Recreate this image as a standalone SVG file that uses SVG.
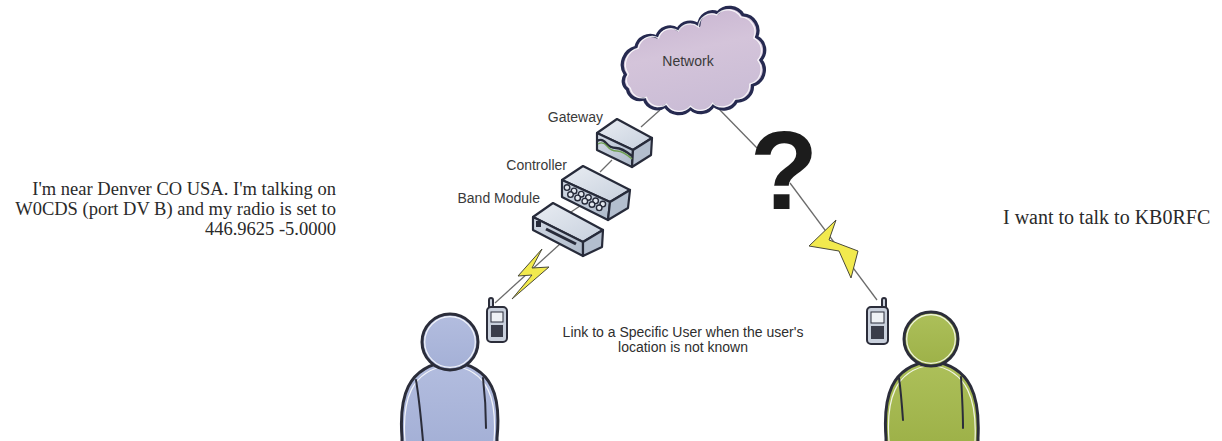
<svg xmlns="http://www.w3.org/2000/svg" width="1222" height="441" viewBox="0 0 1222 441">
  <defs>
    <linearGradient id="cloudFill" x1="0" y1="0" x2="0.3" y2="1">
      <stop offset="0" stop-color="#c6b2cf"/>
      <stop offset="0.5" stop-color="#d4c4da"/>
      <stop offset="1" stop-color="#cbbdd6"/>
    </linearGradient>
    <linearGradient id="topFace" x1="0" y1="0" x2="1" y2="1">
      <stop offset="0" stop-color="#e9edf3"/>
      <stop offset="1" stop-color="#c7d0dd"/>
    </linearGradient>
    <linearGradient id="frontFace" x1="0" y1="0" x2="1" y2="1">
      <stop offset="0" stop-color="#d3dae5"/>
      <stop offset="1" stop-color="#aebaca"/>
    </linearGradient>
    <linearGradient id="blueUser" x1="0" y1="0" x2="0" y2="1">
      <stop offset="0" stop-color="#b3bddf"/>
      <stop offset="1" stop-color="#a4b0d6"/>
    </linearGradient>
    <linearGradient id="greenUser" x1="0" y1="0" x2="0" y2="1">
      <stop offset="0" stop-color="#adc05a"/>
      <stop offset="1" stop-color="#9db148"/>
    </linearGradient>
    <path id="cloudShape" d="M632,74 A17 17 0 0 1 642,48 A14 14 0 0 1 662,38 A13 13 0 0 1 682,31 A13 13 0 0 1 702,27 A13 13 0 0 1 720,15 A15 15 0 0 1 744,17 A15 15 0 0 1 757,38 A14 14 0 0 1 761,60 A15 15 0 0 1 753,84 A14 14 0 0 1 738,99 A14 14 0 0 1 716,103 A14 14 0 0 1 694,106 A15 15 0 0 1 670,104 A13 13 0 0 1 650,97 A12 12 0 0 1 634,88 A10 10 0 0 1 632,74 Z"/>
    <style>
      .link { stroke: #6b6b6b; stroke-width: 1.3; fill: none; }
      .edge { stroke: #272b3a; stroke-width: 2.2; stroke-linejoin: round; }
      .top { fill: url(#topFace); }
      .front { fill: url(#frontFace); }
      .side { fill: #b3bece; }
      .label { font-family: "Liberation Sans", Arial, sans-serif; font-size: 14px; fill: #3a3a3a; }
      .note { font-family: "Liberation Sans", Arial, sans-serif; font-size: 14px; fill: #2e2e2e; }
      .speech { font-family: "Liberation Serif", "Times New Roman", serif; font-size: 18.5px; fill: #2a2a2a; }
      .speech.wide { font-size: 20px; }
      .bolt { fill: #f2ea4e; stroke: #4a4a3a; stroke-width: 1; stroke-linejoin: round; }
      .outline { stroke: #2b2d3a; stroke-width: 3; stroke-linejoin: round; }
      .halo { fill: none; stroke: #ffffff; stroke-width: 1.2; opacity: 0.85; }
      .arm { fill: none; stroke: #2b2d3a; stroke-width: 2; stroke-linecap: round; }
      .phone { fill: #c9d0dc; stroke: #2b2d3a; stroke-width: 2; }
    </style>
  </defs>

  <rect width="1222" height="441" fill="#ffffff"/>

  <!-- connectors -->
  <g id="connectors">
    <line class="link" x1="660" y1="110" x2="641" y2="127"/>
    <line class="link" x1="718" y1="108" x2="757" y2="148"/>
    <line class="link" x1="790" y1="183" x2="877" y2="300"/>
    <line class="link" x1="612" y1="160" x2="600" y2="172"/>
    <line class="link" x1="580" y1="206" x2="568" y2="214"/>
    <line class="link" x1="560" y1="244" x2="495" y2="303"/>
  </g>

  <!-- network cloud -->
  <g id="network">
    <g transform="translate(765 60) scale(1.05) translate(-765 -60)">
      <use href="#cloudShape" fill="url(#cloudFill)" stroke="#262a50" stroke-width="3.1" stroke-linejoin="round"/>
      <use href="#cloudShape" class="halo" transform="translate(696 62) scale(0.955) translate(-696 -62)"/>
    </g>
    <text class="label" x="688" y="66" text-anchor="middle">Network</text>
  </g>

  <!-- gateway -->
  <g id="gateway">
    <polygon class="top edge" points="597,133 617,119 652,138 633,150"/>
    <polygon class="front edge" points="597,133 633,150 632,167 597,150"/>
    <polygon class="side edge" points="633,150 652,138 651,155 632,167"/>
    <path d="M597,141 q5,-3 9,2 t10,5 t16,8" fill="none" stroke="#272b3a" stroke-width="2.4"/>
    <path d="M598,144 q5,-3 9,2 t10,5 t15,8" fill="none" stroke="#6fa052" stroke-width="1.4"/>
    <text class="label" x="603" y="122" text-anchor="end">Gateway</text>
  </g>

  <!-- controller -->
  <g id="controller">
    <polygon class="top edge" points="562,180 583,166 630,190 610,202"/>
    <polygon class="front edge" points="562,180 610,202 608,220 562,197"/>
    <polygon class="side edge" points="610,202 630,190 628,208 608,220"/>
    <g fill="#e3e8ef" stroke="#272b3a" stroke-width="1.4">
      <circle cx="567" cy="187.6" r="2.8"/><circle cx="574" cy="190.9" r="2.8"/><circle cx="581.2" cy="194.2" r="2.8"/>
      <circle cx="588.4" cy="197.5" r="2.8"/><circle cx="595.6" cy="200.8" r="2.8"/><circle cx="602.8" cy="204.1" r="2.8"/>
      <circle cx="570.5" cy="194.6" r="2.8"/><circle cx="577.6" cy="197.9" r="2.8"/><circle cx="584.8" cy="201.2" r="2.8"/>
      <circle cx="592" cy="204.5" r="2.8"/><circle cx="599.2" cy="207.8" r="2.8"/>
    </g>
    <text class="label" x="567" y="170" text-anchor="end">Controller</text>
  </g>

  <!-- band module -->
  <g id="band-module">
    <polygon class="top edge" points="533,217 553,203 603,230 583,242"/>
    <polygon class="front edge" points="533,217 583,242 583,256 533,230"/>
    <polygon class="side edge" points="583,242 603,230 602,247 583,256"/>
    <rect x="536" y="221" width="5" height="6" fill="#272b3a"/>
    <line x1="546" y1="229" x2="576" y2="244" stroke="#272b3a" stroke-width="3"/>
    <text class="label" x="540" y="203" text-anchor="end">Band Module</text>
  </g>

  <!-- lightning bolts on the radio paths -->
  <g id="bolt-left">
    <polygon class="bolt" points="542,249 518,276 532,275 512,299 549,267 532,268"/>
  </g>
  <g id="bolt-right">
    <polygon class="bolt" points="836,220 809,246 839,251 851,278 858,251 829,240"/>
  </g>

  <!-- unknown location marker -->
  <g id="question">
    <text x="784" y="209" text-anchor="middle" font-family="Liberation Sans, Arial, sans-serif" font-weight="bold" font-size="112" fill="#1c1c1c">?</text>
  </g>

  <!-- left radio -->
  <g id="phone-left">
    <rect x="489" y="298" width="4" height="11" rx="2" class="phone"/>
    <rect x="487" y="307" width="20" height="35" rx="4" class="phone"/>
    <rect x="491" y="312" width="12" height="10" fill="#eef1f5" stroke="#2b2d3a" stroke-width="1"/>
    <rect x="491" y="325" width="12" height="12" fill="#3a3d4a"/>
  </g>

  <!-- right radio -->
  <g id="phone-right">
    <rect x="882" y="298" width="4" height="11" rx="2" class="phone"/>
    <rect x="867" y="307" width="21" height="37" rx="4" class="phone"/>
    <rect x="871" y="312" width="13" height="11" fill="#eef1f5" stroke="#2b2d3a" stroke-width="1"/>
    <rect x="871" y="326" width="13" height="13" fill="#3a3d4a"/>
  </g>

  <!-- calling user -->
  <g id="user-left">
    <path class="outline" fill="url(#blueUser)" d="M402,445 L402,438 C399,398 406,366 450,361 C494,366 501,398 497,438 L497,445 Z"/>
    <path class="halo" d="M405,441 C402,401 410,370 450,365 C490,370 497,401 494,441"/>
    <path class="arm" d="M416,380 C419,398 421,418 423,441"/>
    <path class="arm" d="M483,378 C485,395 486,412 486,428"/>
    <circle class="outline" fill="url(#blueUser)" cx="450" cy="342" r="28"/>
    <circle class="halo" cx="450" cy="342" r="25.3"/>
  </g>

  <!-- called user -->
  <g id="user-right">
    <path class="outline" fill="url(#greenUser)" d="M886,445 L886,438 C883,398 890,366 931,361 C972,366 980,398 978,438 L978,445 Z"/>
    <path class="halo" d="M889,441 C886,401 894,370 931,365 C968,370 977,401 975,441"/>
    <path class="arm" d="M899,378 C901,392 902,406 903,420"/>
    <path class="arm" d="M961,377 C962,394 963,411 963,428"/>
    <circle class="outline" fill="url(#greenUser)" cx="931" cy="339" r="27"/>
    <circle class="halo" cx="931" cy="339" r="24.3"/>
  </g>

  <!-- captions -->
  <g id="caption-left">
    <text class="speech" x="336" y="195" text-anchor="end">I'm near Denver CO USA. I'm talking on</text>
    <text class="speech" x="336" y="215" text-anchor="end">W0CDS (port DV B) and my radio is set to</text>
    <text class="speech" x="336" y="235" text-anchor="end">446.9625 -5.0000</text>
  </g>
  <g id="caption-right">
    <text class="speech wide" x="1003" y="224">I want to talk to KB0RFC</text>
  </g>
  <g id="caption-center">
    <text class="note" x="683" y="337" text-anchor="middle">Link to a Specific User when the user's</text>
    <text class="note" x="683" y="352" text-anchor="middle">location is not known</text>
  </g>
</svg>
